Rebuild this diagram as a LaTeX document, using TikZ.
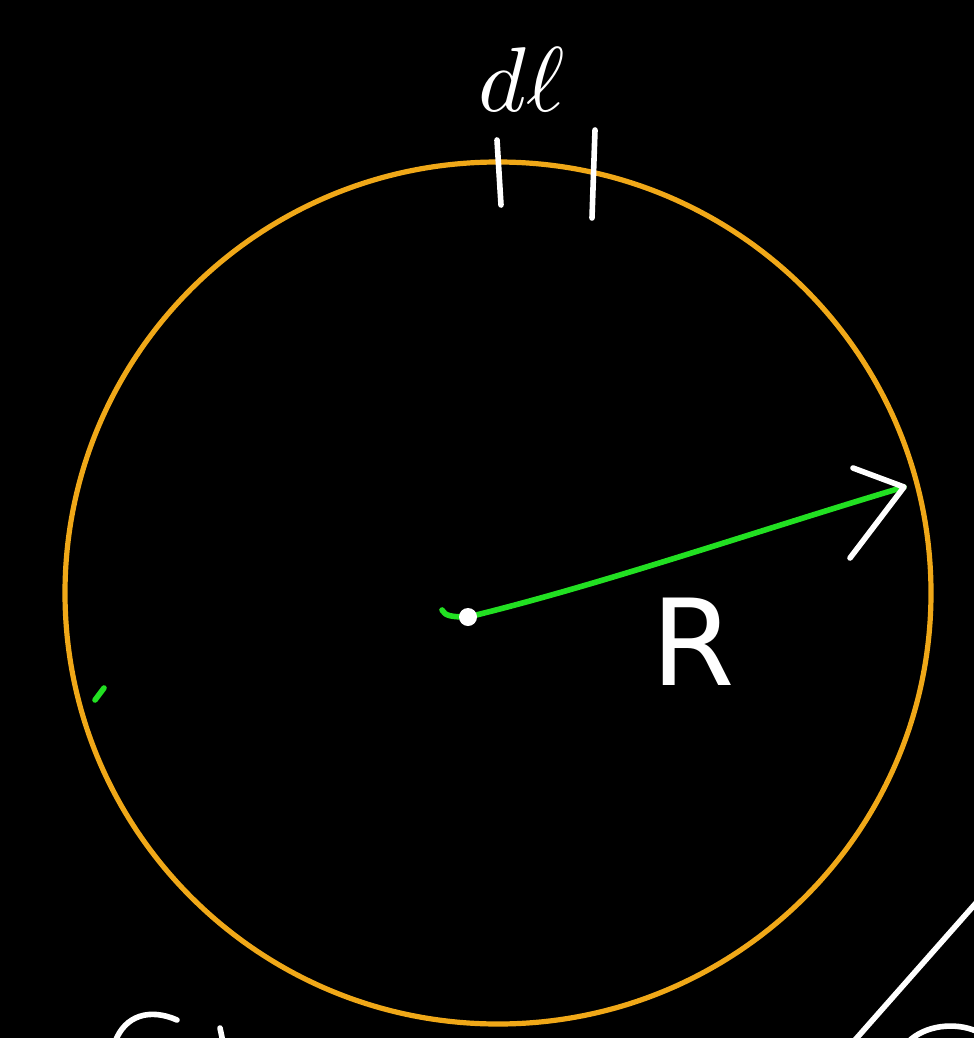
\documentclass[tikz,border=0pt]{standalone}
\usepackage{fontspec}
\setsansfont{DejaVu Sans}
\definecolor{ringc}{HTML}{F0A818}
\definecolor{greenc}{HTML}{22E022}
\tikzset{
  ink/.style={white, line width=2.8pt, line cap=round, line join=round},
  gink/.style={greenc, line width=2.8pt, line cap=round, line join=round},
  lbl/.style={white, inner sep=0pt}
}
\begin{document}
\begin{tikzpicture}[x=0.5pt,y=-0.5pt]
\fill[black] (0,0) rectangle (974,1038);
\useasboundingbox (0,0) rectangle (974,1038);
% ring
\coordinate (O) at (498,593);
\draw[ringc, line width=2.6pt] (O) ellipse [x radius=433, y radius=431];
% dl marks
\coordinate (t1a) at (497,140); \coordinate (t1b) at (501,205);
\coordinate (t2a) at (595,130); \coordinate (t2b) at (592,218);
\draw[ink] (t1a) -- (t1b);
\draw[ink] (t2a) -- (t2b);
\node[lbl, scale=4.6] (dl) at (522,80) {$d\ell$};
% radius
\coordinate (c0) at (442,610);
\coordinate (c1) at (468,617);
\coordinate (tip) at (904,487);
\draw[gink] (c0) .. controls (445,616) and (452,617) .. (c1);
\draw[gink] (c1) .. controls (600,585) and (760,530) .. (tip);
\fill[white] (c1) circle (9);
\coordinate (ah1) at (853,468);
\coordinate (ah2) at (850,558);
\draw[ink] (ah1) -- (tip) -- (ah2);
\node[lbl, font=\sffamily\fontsize{60}{68}\selectfont] (R) at (693,642) {R};
% small green tick
\coordinate (g1) at (95,700); \coordinate (g2) at (104,688);
\draw[gink] (g1) -- (g2);
% bottom partial strokes
\coordinate (d1) at (976,903); \coordinate (d2) at (855,1040);
\draw[ink] (d1) -- (d2);
\coordinate (b1) at (908,1042); \coordinate (b2) at (976,1031);
\draw[ink] (b1) .. controls (925,1025) and (955,1022) .. (b2);
\coordinate (e1) at (115,1042); \coordinate (e2) at (177,1020);
\draw[ink] (e1) .. controls (125,1015) and (150,1008) .. (e2);
\coordinate (f1) at (220,1028); \coordinate (f2) at (223,1042);
\draw[ink] (f1) -- (f2);
\end{tikzpicture}
\end{document}
